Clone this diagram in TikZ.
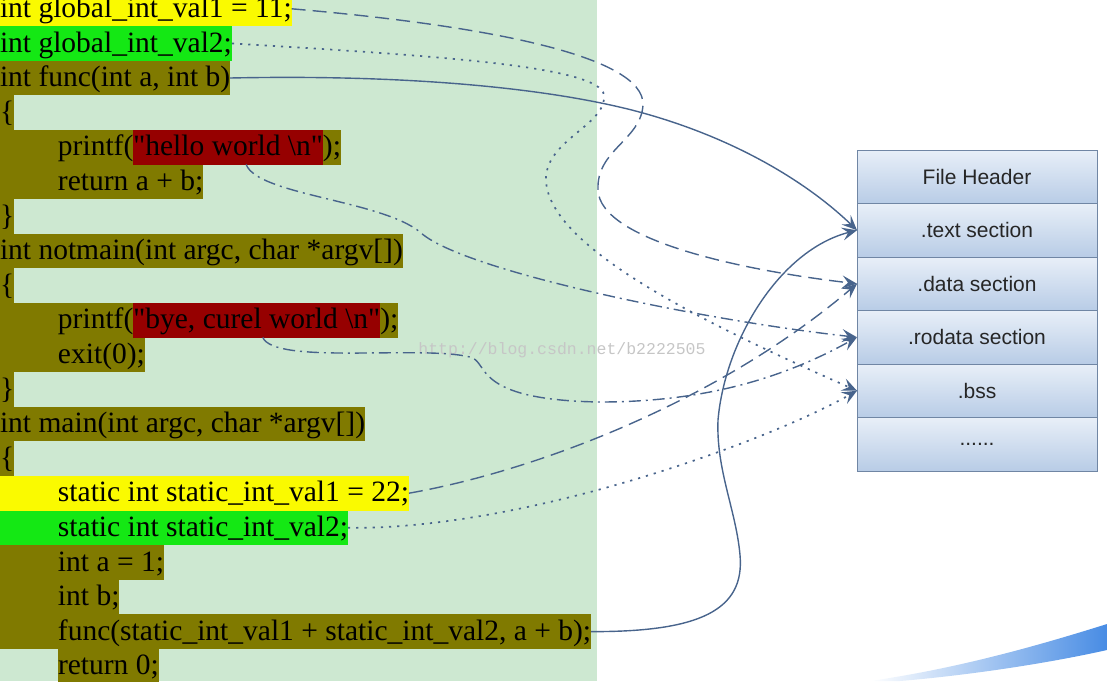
\documentclass[tikz,border=0pt]{standalone}
\usepackage{fontspec}
\setmainfont{Liberation Serif}
\newfontfamily\codefont{Liberation Serif}
\newfontfamily\sectfont{Liberation Sans}
\newfontfamily\wmfont{Liberation Mono}
\usepackage{tikz}
\usetikzlibrary{positioning}
\usetikzlibrary{arrows.meta}
\definecolor{panel}{RGB}{205,232,209}
\definecolor{hlyellow}{RGB}{250,250,0}
\definecolor{hlgreen}{RGB}{20,232,20}
\definecolor{hlolive}{RGB}{128,122,0}
\definecolor{hlred}{RGB}{150,0,0}
\definecolor{sectline}{RGB}{112,134,164}
\definecolor{secttop}{RGB}{232,239,248}
\definecolor{sectbot}{RGB}{184,204,230}
\definecolor{linkblue}{RGB}{72,100,140}
\definecolor{swoosh}{RGB}{72,140,228}
\newcommand{\bs}{\textbackslash}
\newcommand{\ind}{\hspace*{58pt}}

\begin{document}
\begin{tikzpicture}[x=1pt,y=-1pt,>={Stealth[length=15pt,width=13pt,inset=6pt]},
	code/.style={anchor=west,inner sep=0pt,outer sep=0pt,text height=26pt,text depth=8.6pt,
		font=\codefont\fontsize{29.5}{34.6}\selectfont},
	sect/.style={rectangle,draw=sectline,line width=1pt,top color=secttop,bottom color=sectbot,
		minimum width=240pt,minimum height=53.5pt,inner sep=0pt,outer sep=0pt,
		font=\sectfont\fontsize{21}{25}\selectfont,text=black!85},
	link/.style={->,draw=linkblue,line width=1.4pt},
	longdash/.style={dash pattern=on 14pt off 7pt},
	dashdot/.style={dash pattern=on 12pt off 5pt on 2pt off 5pt},
	dots/.style={line width=1.7pt,dash pattern=on 2.2pt off 6pt}]
	\useasboundingbox (0,0) rectangle (1107,681);
	\fill[panel] (0,0) rectangle (597,681);
	
	% source code
	\node[code,fill=hlyellow] (val1) at (0,8.8) {int global\_int\_val1 = 11;};
	\node[code,fill=hlgreen]  (val2) at (0,43.4) {int global\_int\_val2;};
	\node[code,fill=hlolive]  (fdef) at (0,78) {int func(int a, int b)};
	\node[code,fill=hlolive]  (ob1) at (0,112.6) {\{};
	\node[code,fill=hlolive]  (pr1) at (0,147.2) {\ind printf(};
	\node[code,fill=hlred]    (hello) [right=0pt of pr1] {"hello world \bs n"};
	\node[code,fill=hlolive]  (pr1e) [right=0pt of hello] {);};
	\node[code,fill=hlolive]  (ret1) at (0,181.8) {\ind return a + b;};
	\node[code,fill=hlolive]  (cb1) at (0,216.4) {\}};
	\node[code,fill=hlolive]  (ndef) at (0,251) {int notmain(int argc, char *argv[])};
	\node[code,fill=hlolive]  (ob2) at (0,285.6) {\{};
	\node[code,fill=hlolive]  (pr2) at (0,320.2) {\ind printf(};
	\node[code,fill=hlred]    (bye) [right=0pt of pr2] {"bye, curel world \bs n"};
	\node[code,fill=hlolive]  (pr2e) [right=0pt of bye] {);};
	\node[code,fill=hlolive]  (ex) at (0,354.8) {\ind exit(0);};
	\node[code,fill=hlolive]  (cb2) at (0,389.4) {\}};
	\node[code,fill=hlolive]  (mdef) at (0,424) {int main(int argc, char *argv[])};
	\node[code,fill=hlolive]  (ob3) at (0,458.6) {\{};
	\node[code,fill=hlyellow] (sval1) at (0,493.2) {\ind static int static\_int\_val1 = 22;};
	\node[code,fill=hlgreen]  (sval2) at (0,527.8) {\ind static int static\_int\_val2;};
	\node[code,fill=hlolive]  (da) at (0,562.4) {\ind int a = 1;};
	\node[code,fill=hlolive]  (db) at (0,597) {\ind int b;};
	\node[code,fill=hlolive]  (fcall) at (0,631.6) {\ind func(static\_int\_val1 + static\_int\_val2, a + b);};
	\node[code,fill=hlolive]  (ret2) at (58,666.2) {return 0;};
	
	% sections
	\node[sect] (hdr) at (977,176.75) {File Header};
	\node[sect] (txt) [below=0pt of hdr] {.text section};
	\node[sect] (dat) [below=0pt of txt] {.data section};
	\node[sect] (rod) [below=0pt of dat] {.rodata section};
	\node[sect] (bss) [below=0pt of rod] {.bss};
	\node[sect] (etc) [below=0pt of bss] {......};
	
	\node[font=\wmfont\fontsize{16.5}{18}\selectfont,text=gray!45] (wm) at (562,350) {http://blog.csdn.net/b2222505};
	
	\draw[link] (fdef.east) .. controls (420,74) and (560,90) .. (643,113)
		.. controls (740,140) and (810,185) .. (txt.west);
	\draw[link] (fcall.east) .. controls (700,632) and (745,610) .. (740,555)
		.. controls (736,510) and (716,470) .. (718,420)
		.. controls (725,340) and (780,250) .. (txt.west);
	\draw[link,longdash] (val1.east) .. controls (480,25) and (645,55) .. (643,105)
		.. controls (641,140) and (596,150) .. (598,190)
		.. controls (600,240) and (740,270) .. (dat.west);
	\draw[link,longdash] (sval1.east) .. controls (540,470) and (720,400) .. (dat.west);
	\draw[link,dashdot] ([xshift=18pt]hello.south) .. controls (258,195) and (380,200) .. (420,232)
		.. controls (460,270) and (700,320) .. (rod.west);
	\draw[link,dashdot] ([xshift=6pt]bye.south) .. controls (275,365) and (420,345) .. (470,357)
		.. controls (490,362) and (470,400) .. (600,402)
		.. controls (700,402) and (780,380) .. (rod.west);
	\draw[link,dots] (val2.east) .. controls (420,55) and (600,65) .. (604,95)
		.. controls (607,125) and (545,140) .. (546,180)
		.. controls (548,250) and (720,330) .. (bss.west);
	\draw[link,dots] (sval2.east) .. controls (520,530) and (760,445) .. (bss.west);
	
	\shade[left color=white,middle color=swoosh!70,right color=swoosh] (870,681) .. controls (960,668) and (1040,645) .. (1107,624)
		-- (1107,650) .. controls (1040,665) and (960,676) .. (900,681) -- cycle;
\end{tikzpicture}
\end{document}
